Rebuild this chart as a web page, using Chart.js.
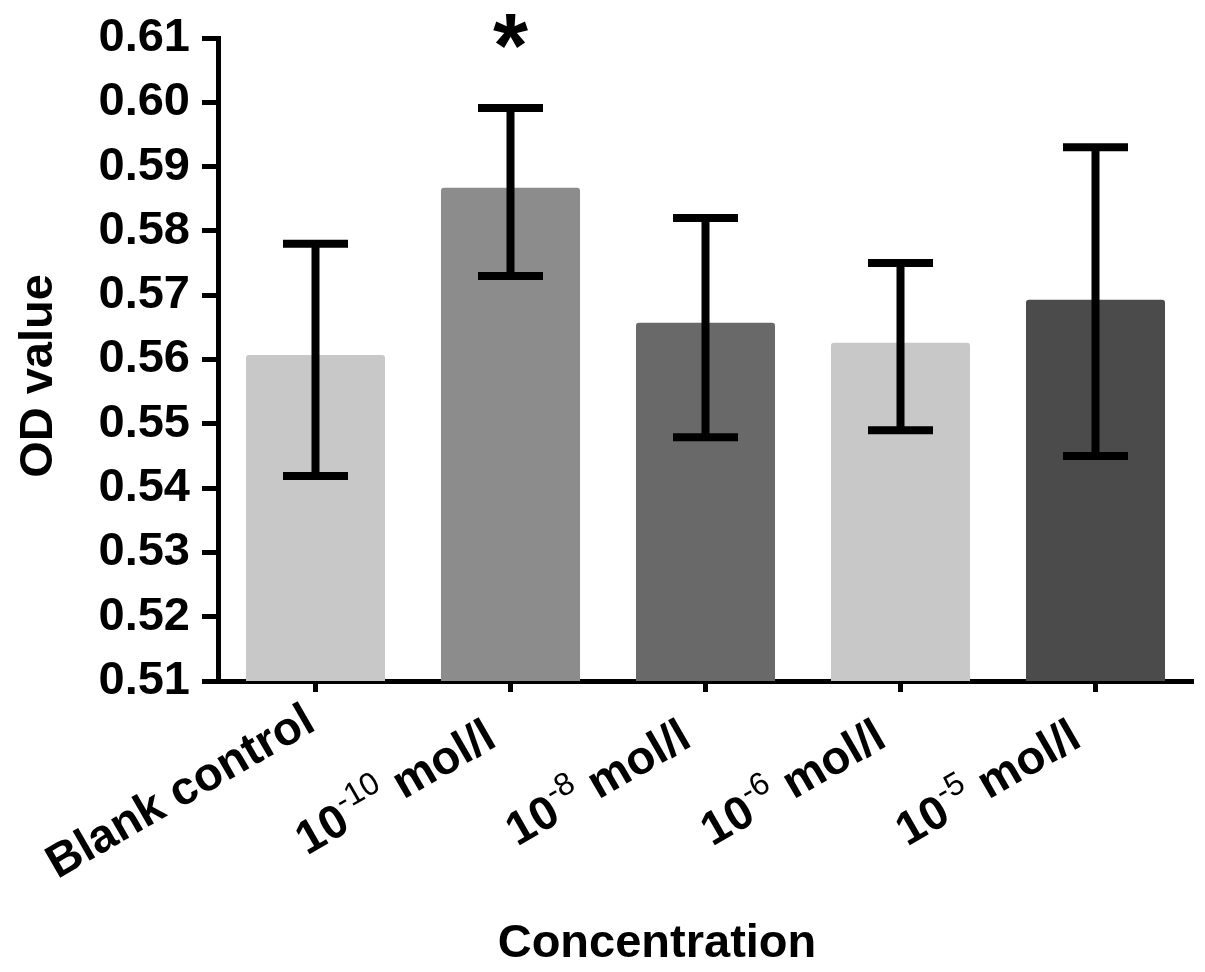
<!DOCTYPE html>
<html>
<head>
<meta charset="utf-8">
<script src="https://cdn.jsdelivr.net/npm/chart.js@4/dist/chart.umd.min.js"></script>
<style>
html,body{margin:0;padding:0;background:#fff;}
#wrap{width:1205px;height:972px;}
</style>
</head>
<body>
<div id="wrap"><canvas id="c" width="1205" height="972"></canvas></div>
<script>
// ---- data ----
const categories = ['Blank control', '10-10 mol/l', '10-8 mol/l', '10-6 mol/l', '10-5 mol/l'];
const labelBase  = ['Blank control', '10', '10', '10', '10'];
const labelSup   = ['', '-10', '-8', '-6', '-5'];
const labelRest  = ['', ' mol/l', ' mol/l', ' mol/l', ' mol/l'];
const odMean     = [0.5607, 0.5867, 0.5657, 0.5626, 0.5693];
const errUpper   = [0.5780, 0.5991, 0.5820, 0.5750, 0.5930];
const errLower   = [0.5419, 0.5730, 0.5479, 0.5490, 0.5450];
const significant = [false, true, false, false, false];
const barColors  = ['#c8c8c8', '#8c8c8c', '#696969', '#c8c8c8', '#4b4b4b'];
const yMin = 0.51, yMax = 0.61, yStep = 0.01;
const xTitle = 'Concentration';
const yTitle = 'OD value';

const FONT = '"Liberation Sans", Arial, sans-serif';

const overlay = {
  id: 'overlay',
  afterDatasetsDraw(chart) {
    const ctx = chart.ctx;
    const xs = chart.scales.x, ys = chart.scales.y;
    ctx.save();
    ctx.strokeStyle = '#000';
    ctx.fillStyle = '#000';
    ctx.lineCap = 'butt';
    for (let i = 0; i < odMean.length; i++) {
      const x = xs.getPixelForValue(i);
      const yt = ys.getPixelForValue(errUpper[i]);
      const yb = ys.getPixelForValue(errLower[i]);
      ctx.lineWidth = 8;
      ctx.beginPath();
      ctx.moveTo(x, yt); ctx.lineTo(x, yb);
      ctx.moveTo(x - 32.5, yt); ctx.lineTo(x + 32.5, yt);
      ctx.moveTo(x - 32.5, yb); ctx.lineTo(x + 32.5, yb);
      ctx.stroke();
      if (significant[i]) {
        ctx.font = 'bold 90px ' + FONT;
        ctx.textAlign = 'center';
        ctx.textBaseline = 'alphabetic';
        ctx.fillText('*', x, 77);
      }
    }
    ctx.restore();
  },
  afterDraw(chart) {
    const ctx = chart.ctx;
    const xs = chart.scales.x;
    const axisY = chart.chartArea.bottom;
    const ang = -30 * Math.PI / 180;
    ctx.save();
    ctx.fillStyle = '#000';
    ctx.textBaseline = 'alphabetic';
    ctx.textAlign = 'left';
    for (let i = 0; i < categories.length; i++) {
      const tx = xs.getPixelForValue(i);
      const hasSup = labelSup[i] !== '';
      const ex = hasSup ? tx - 12 : tx + 2;
      const ey = hasSup ? axisY + 64 : axisY + 48;
      const fBold = 'bold 47px ' + FONT;
      const fSup = '32px ' + FONT;
      ctx.font = fBold; const w1 = ctx.measureText(labelBase[i]).width;
      ctx.font = fSup;  const w2 = ctx.measureText(labelSup[i]).width;
      ctx.font = fBold; const w3 = ctx.measureText(labelRest[i]).width;
      const total = w1 + w2 + w3;
      ctx.save();
      ctx.translate(ex, ey);
      ctx.rotate(ang);
      let cx = -total;
      ctx.font = fBold; ctx.fillText(labelBase[i], cx, 0); cx += w1;
      ctx.font = fSup;  ctx.fillText(labelSup[i], cx, -20); cx += w2;
      ctx.font = fBold; ctx.fillText(labelRest[i], cx, 0);
      ctx.restore();
    }
    // axis titles
    ctx.font = 'bold 47px ' + FONT;
    ctx.textAlign = 'center';
    ctx.fillText(xTitle, 657, 957);
    ctx.save();
    ctx.translate(52, 376);
    ctx.rotate(-Math.PI / 2);
    ctx.fillText(yTitle, 0, 0);
    ctx.restore();
    ctx.restore();
  }
};

new Chart(document.getElementById('c'), {
  type: 'bar',
  data: {
    labels: categories,
    datasets: [{
      data: odMean,
      backgroundColor: barColors,
      borderWidth: 0,
      borderRadius: 3,
      barPercentage: 0.713,
      categoryPercentage: 1.0
    }]
  },
  options: {
    responsive: false,
    devicePixelRatio: 1,
    animation: false,
    layout: { padding: { top: 38, right: 12, left: 0, bottom: 0 } },
    plugins: { legend: { display: false }, tooltip: { enabled: false } },
    scales: {
      x: {
        z: 1,
        ticks: { display: false },
        grid: { display: true, drawOnChartArea: false, drawTicks: true, tickLength: 11, tickWidth: 5, tickColor: '#000', offset: false },
        border: { display: true, width: 5, color: '#000' },
        afterFit(s) { s.height = 291; s.paddingLeft = 0; s.paddingRight = 0; }
      },
      y: {
        z: 1,
        min: yMin, max: yMax,
        ticks: {
          stepSize: yStep,
          color: '#000',
          padding: 12,
          font: { family: FONT, size: 47, weight: 'bold' },
          callback: v => Number(v).toFixed(2)
        },
        grid: { display: true, drawOnChartArea: false, drawTicks: true, tickLength: 16, tickWidth: 5, tickColor: '#000' },
        border: { display: true, width: 5, color: '#000' },
        afterFit(s) { s.width = 218; s.paddingTop = 0; s.paddingBottom = 0; }
      }
    }
  },
  plugins: [overlay]
});
</script>
</body>
</html>
